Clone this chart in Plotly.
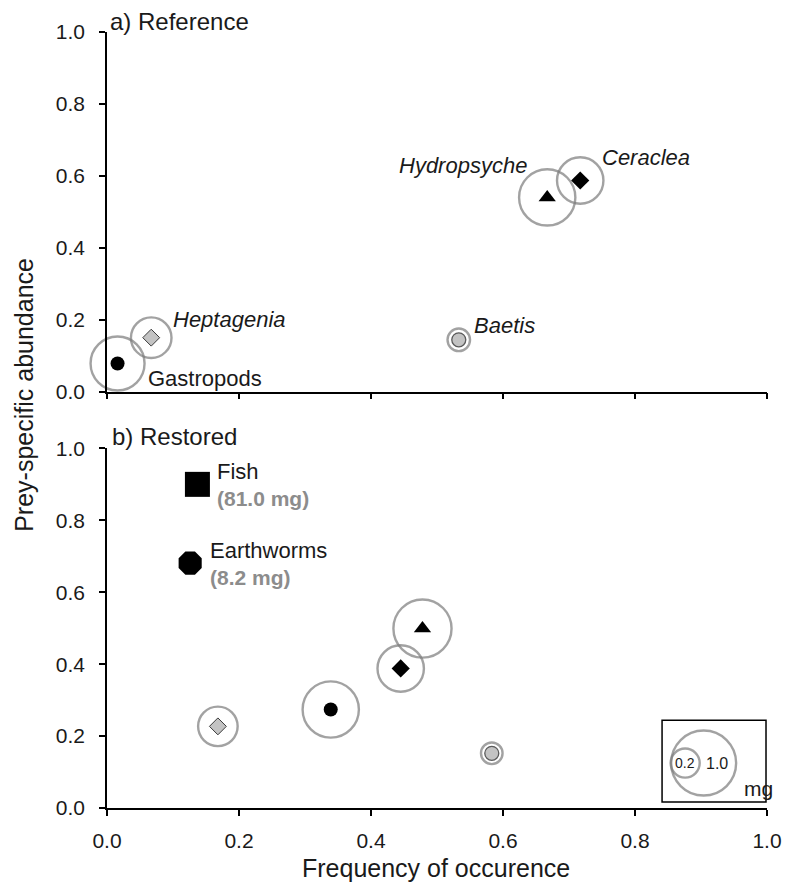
import plotly.graph_objects as go

# ---------------- data ----------------
taxa = ["Gastropods", "Heptagenia", "Hydropsyche", "Ceraclea", "Baetis"]
ref_freq = [0.016, 0.067, 0.667, 0.717, 0.533]
ref_abund = [0.078, 0.150, 0.540, 0.587, 0.144]
ref_mass = [0.69, 0.39, 0.75, 0.51, 0.12]

res_freq = [0.339, 0.168, 0.478, 0.445, 0.583]
res_abund = [0.274, 0.227, 0.499, 0.388, 0.152]
res_mass = [0.75, 0.37, 0.80, 0.51, 0.11]

big_taxa = ["Fish", "Earthworms"]
big_freq = [0.137, 0.126]
big_abund = [0.900, 0.681]
big_mass = [81.0, 8.2]

legend_mass = [1.0, 0.2]
tick_vals = [0.0, 0.2, 0.4, 0.6, 0.8, 1.0]

# ---------------- styles ----------------
FONT = "Liberation Sans, Arial, sans-serif"
RING = "#7c7c7c"
SIZEREF = 1.0 / 2112.0  # 1.0 mg -> ~65 px diameter (area scaled)

styles = {
    "Gastropods": dict(symbol="circle", size=14, color="black", line=dict(color="black", width=0)),
    "Heptagenia": dict(symbol="diamond", size=13, color="#c3c3c3", line=dict(color="#3a3a3a", width=1)),
    "Hydropsyche": dict(symbol="triangle-up", size=15, color="black", line=dict(color="black", width=0)),
    "Ceraclea": dict(symbol="diamond", size=14, color="black", line=dict(color="black", width=0)),
    "Baetis": dict(symbol="circle", size=14, color="#c3c3c3", line=dict(color="#5a5a5a", width=1.3)),
}
big_styles = {
    "Fish": dict(symbol="square", size=25, color="black"),
    "Earthworms": dict(symbol="octagon", size=25, color="black"),
}

# label offsets (pixels) for panel a
label_pos = {
    "Gastropods": dict(xshift=28, yshift=-15, xanchor="left", italic=False),
    "Heptagenia": dict(xshift=20, yshift=18, xanchor="left", italic=True),
    "Hydropsyche": dict(xshift=-18, yshift=32, xanchor="right", italic=True),
    "Ceraclea": dict(xshift=20, yshift=23, xanchor="left", italic=True),
    "Baetis": dict(xshift=13, yshift=14, xanchor="left", italic=True),
}

fig = go.Figure()


def add_panel(freq, abund, mass, xa, ya):
    # mass rings
    fig.add_trace(go.Scatter(
        x=freq, y=abund, mode="markers", xaxis=xa, yaxis=ya, cliponaxis=False,
        showlegend=False, hoverinfo="skip",
        marker=dict(symbol="circle", size=mass, sizemode="area", sizeref=SIZEREF,
                    color="rgba(0,0,0,0)", line=dict(color=RING, width=2.4))))
    # taxon symbols
    for i, t in enumerate(taxa):
        s = styles[t]
        fig.add_trace(go.Scatter(
            x=[freq[i]], y=[abund[i]], mode="markers", xaxis=xa, yaxis=ya,
            cliponaxis=False, showlegend=False, name=t,
            marker=dict(symbol=s["symbol"], size=s["size"], color=s["color"], line=s["line"])))


add_panel(ref_freq, ref_abund, ref_mass, "x", "y")
add_panel(res_freq, res_abund, res_mass, "x2", "y2")

# large prey (mass shown as text)
for i, t in enumerate(big_taxa):
    s = big_styles[t]
    fig.add_trace(go.Scatter(
        x=[big_freq[i]], y=[big_abund[i]], mode="markers", xaxis="x2", yaxis="y2",
        cliponaxis=False, showlegend=False, name=t,
        marker=dict(symbol=s["symbol"], size=s["size"], color=s["color"], line=dict(width=0))))

# legend bubbles
leg_x = [0.904, 0.876]
leg_y = [0.125, 0.125]
fig.add_trace(go.Scatter(
    x=leg_x, y=leg_y, mode="markers", xaxis="x2", yaxis="y2", cliponaxis=False,
    showlegend=False, hoverinfo="skip",
    marker=dict(symbol="circle", size=legend_mass, sizemode="area", sizeref=SIZEREF,
                color="rgba(0,0,0,0)", line=dict(color=RING, width=2.4))))

annotations = []
# panel a labels
for i, t in enumerate(taxa):
    p = label_pos[t]
    txt = f"<i>{t}</i>" if p["italic"] else t
    annotations.append(dict(x=ref_freq[i], y=ref_abund[i], xref="x", yref="y", text=txt,
                            showarrow=False, xanchor=p["xanchor"], yanchor="middle",
                            xshift=p["xshift"], yshift=p["yshift"],
                            font=dict(family=FONT, size=22, color="#1a1a1a")))
# panel b labels for large prey
for i, t in enumerate(big_taxa):
    annotations.append(dict(x=big_freq[i], y=big_abund[i], xref="x2", yref="y2", text=t,
                            showarrow=False, xanchor="left", yanchor="middle",
                            xshift=18, yshift=13,
                            font=dict(family=FONT, size=22, color="#1a1a1a")))
    annotations.append(dict(x=big_freq[i], y=big_abund[i], xref="x2", yref="y2",
                            text=f"<b>({big_mass[i]:.1f} mg)</b>",
                            showarrow=False, xanchor="left", yanchor="middle",
                            xshift=18, yshift=-14,
                            font=dict(family=FONT, size=21, color="#8c8c8c")))

# legend text
annotations += [
    dict(x=leg_x[1], y=leg_y[1], xref="x2", yref="y2", text=f"{legend_mass[1]:.1f}", showarrow=False,
         xanchor="center", yanchor="middle", font=dict(family=FONT, size=14, color="#1a1a1a")),
    dict(x=leg_x[0], y=leg_y[0], xref="x2", yref="y2", text=f"{legend_mass[0]:.1f}", showarrow=False,
         xanchor="center", yanchor="middle", xshift=13, font=dict(family=FONT, size=16, color="#1a1a1a")),
    dict(x=leg_x[0], y=leg_y[0], xref="x2", yref="y2", text="mg", showarrow=False,
         xanchor="center", yanchor="middle", xshift=55, yshift=-25,
         font=dict(family=FONT, size=21, color="#1a1a1a")),
]

# panel titles and axis titles
annotations += [
    dict(x=0.0015, y=1.0141, xref="paper", yref="paper", text="a) Reference", showarrow=False,
         xanchor="left", yanchor="middle", font=dict(family=FONT, size=24, color="#1a1a1a")),
    dict(x=0.0045, y=0.4788, xref="paper", yref="paper", text="b) Restored", showarrow=False,
         xanchor="left", yanchor="middle", font=dict(family=FONT, size=24, color="#1a1a1a")),
    dict(x=0.499, y=-0.077, xref="paper", yref="paper", text="Frequency of occurence", showarrow=False,
         xanchor="center", yanchor="middle", font=dict(family=FONT, size=25, color="#1a1a1a")),
    dict(x=-0.127, y=0.5327, xref="paper", yref="paper", text="Prey-specific abundance", showarrow=False,
         textangle=-90, xanchor="center", yanchor="middle", font=dict(family=FONT, size=25, color="#1a1a1a")),
]

axis_common = dict(range=[0, 1], showgrid=False, zeroline=False, showline=True,
                   linecolor="black", linewidth=1.5, ticks="outside", ticklen=6,
                   tickwidth=1.5, tickcolor="black", tickvals=tick_vals, tickformat=".1f",
                   tickfont=dict(family=FONT, size=21, color="#1a1a1a"))

# the page body adds an 8 px margin on every side; the figure is sized so the page
# (including the last x tick label) stays inside the 794x890 window
fig.update_layout(
    width=786, height=874,
    margin=dict(l=99, r=17, t=21, b=74),
    paper_bgcolor="white", plot_bgcolor="white",
    showlegend=False,
    xaxis=dict(axis_common, domain=[0, 1], anchor="y", showticklabels=False),
    yaxis=dict(axis_common, domain=[0.5366, 1], anchor="x", ticklabelstandoff=10),
    xaxis2=dict(axis_common, domain=[0, 1], anchor="y2", ticklabelstandoff=7),
    yaxis2=dict(axis_common, domain=[0, 0.4634], anchor="x2", ticklabelstandoff=10),
    annotations=annotations,
    shapes=[dict(type="rect", xref="x2", yref="y2", x0=0.841, x1=0.9985, y0=0.017, y1=0.244,
                 line=dict(color="black", width=1.5), fillcolor="rgba(0,0,0,0)")],
)

fig.write_html("out.html")
